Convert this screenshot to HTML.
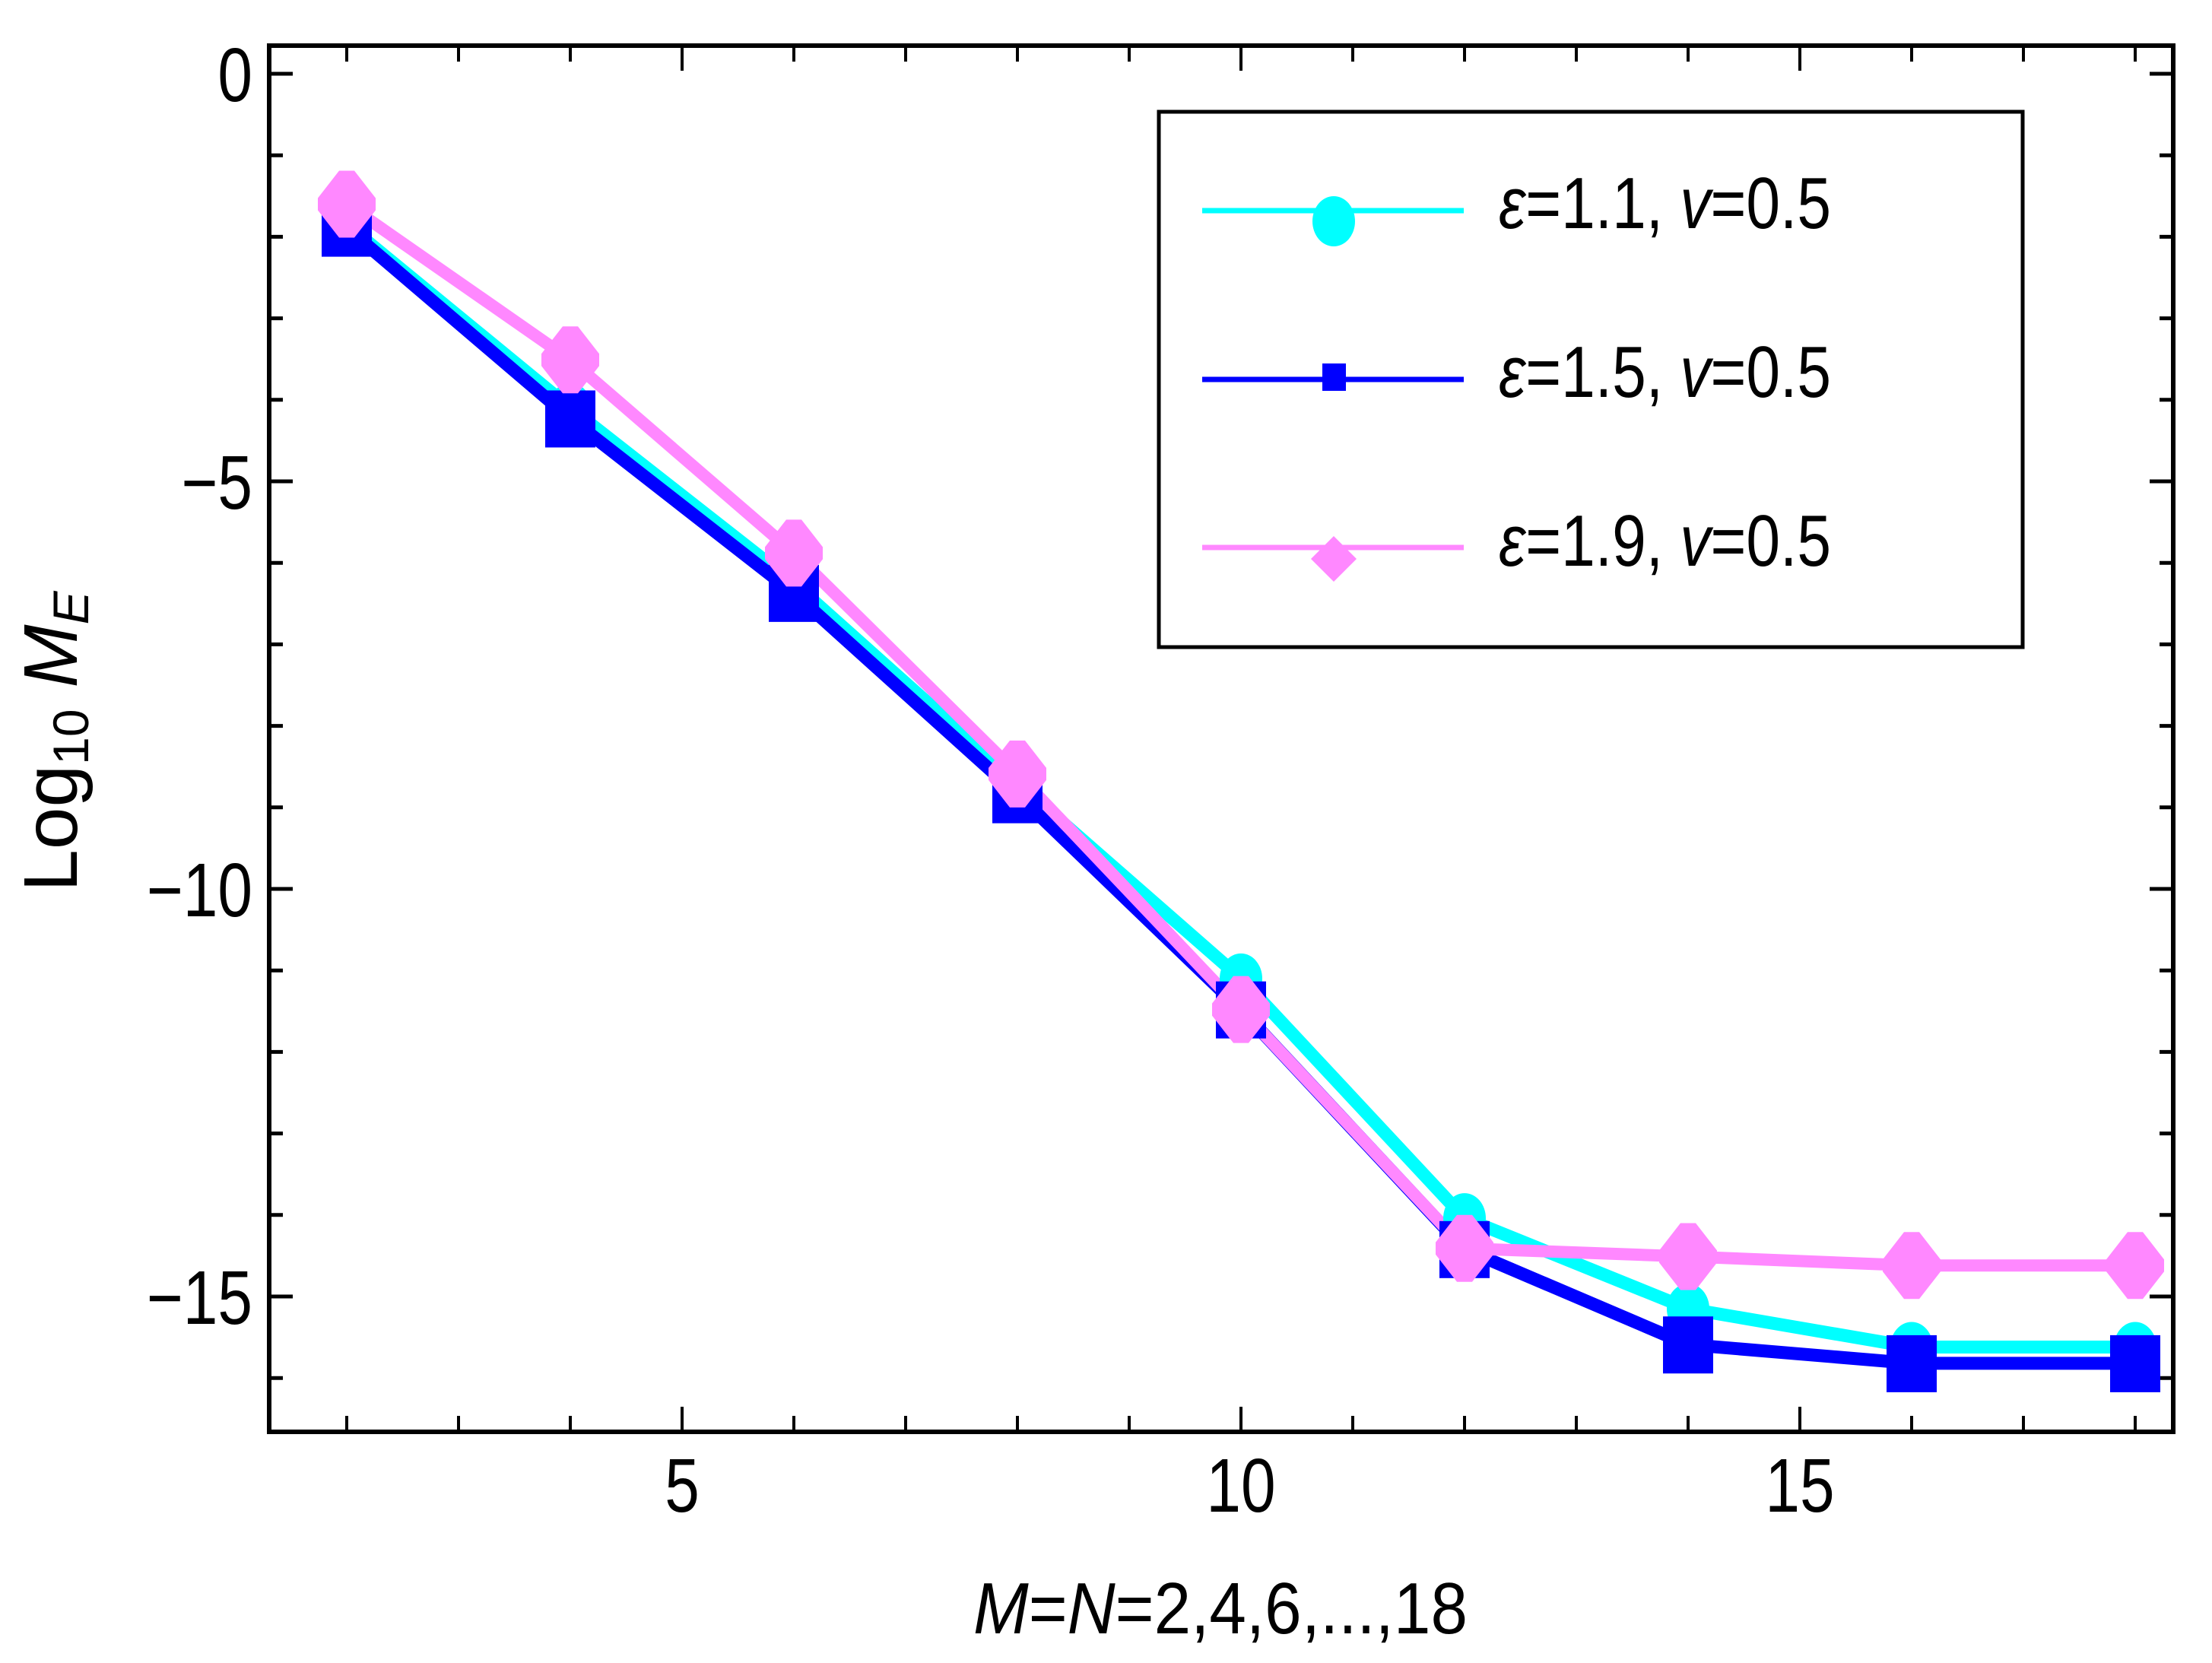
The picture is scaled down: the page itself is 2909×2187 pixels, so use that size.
<!DOCTYPE html>
<html><head><meta charset="utf-8"><style>
html,body{margin:0;padding:0;background:#fff;}
svg{display:block;font-family:"Liberation Sans",sans-serif;}
</style></head><body>
<svg id="chart" width="2909" height="2187" viewBox="0 0 2909 2187" xmlns="http://www.w3.org/2000/svg">
<rect x="0" y="0" width="2909" height="2187" fill="#fff"/>
<g id="ticks"></g>
<g id="series"></g>
<rect x="354" y="60" width="2504" height="1823" fill="none" stroke="#000" stroke-width="6"/>
<g id="labels" font-size="100"></g>
<text id="ytitle" transform="translate(101,975) rotate(-90)" text-anchor="middle" font-size="100">Log<tspan font-size="66" dy="15">10</tspan><tspan dy="-15"> </tspan><tspan font-style="italic">M</tspan><tspan font-style="italic" font-size="66" dy="15">E</tspan></text>
<text x="1605" y="2148" text-anchor="middle" font-size="96" textLength="650" lengthAdjust="spacingAndGlyphs"><tspan font-style="italic">M</tspan>=<tspan font-style="italic">N</tspan>=2,4,6,...,18</text>
<g>
<rect x="1524" y="147" width="1136" height="704" fill="#fff" stroke="#000" stroke-width="5"/>
<g>
<line x1="1581" y1="277" x2="1925" y2="277" stroke="#00ffff" stroke-width="7"/>
<ellipse cx="1754" cy="291" rx="28" ry="33" fill="#00ffff"/>
<text x="1971" y="300" font-size="96" textLength="437" lengthAdjust="spacingAndGlyphs"><tspan font-style="italic">ε</tspan>=1.1, <tspan font-style="italic">v</tspan>=0.5</text>
</g>
<g>
<line x1="1581" y1="499" x2="1925" y2="499" stroke="#0000ff" stroke-width="7"/>
<rect x="1739" y="478" width="31" height="36" fill="#0000ff"/>
<text x="1971" y="522" font-size="96" textLength="437" lengthAdjust="spacingAndGlyphs"><tspan font-style="italic">ε</tspan>=1.5, <tspan font-style="italic">v</tspan>=0.5</text>
</g>
<g>
<line x1="1581" y1="720" x2="1925" y2="720" stroke="#ff88ff" stroke-width="7"/>
<polygon points="1754,705 1784,735 1754,765 1724,735" fill="#ff88ff"/>
<text x="1971" y="744" font-size="96" textLength="437" lengthAdjust="spacingAndGlyphs"><tspan font-style="italic">ε</tspan>=1.9, <tspan font-style="italic">v</tspan>=0.5</text>
</g>
</g>
</svg>
<script>
const categories = [2, 4, 6, 8, 10, 12, 14, 16, 18];
const cyanValues = [-1.85, -4.1, -6.25, -8.7, -11.1, -14.04, -15.15, -15.62, -15.62];
const blueValues = [-1.89, -4.23, -6.37, -8.84, -11.48, -14.42, -15.59, -15.82, -15.82];
const pinkValues = [-1.6, -3.51, -5.88, -8.59, -11.48, -14.41, -14.51, -14.62, -14.62];
const xTickLabels = [5, 10, 15];
const yTickLabels = [0, -5, -10, -15];

const NS = "http://www.w3.org/2000/svg";
const L = 354, R = 2858, T = 60, B = 1883;
function xs(v){ return 2367 + 147 * (v - 15); }
function ys(v){ return 97 - 107.2 * v; }
function mk(tag, attrs, parent){
  const e = document.createElementNS(NS, tag);
  for (const k in attrs) e.setAttribute(k, attrs[k]);
  parent.appendChild(e); return e;
}
function condense(t, f){
  const w = t.getComputedTextLength();
  t.setAttribute('textLength', (w * f).toFixed(1));
  t.setAttribute('lengthAdjust', 'spacingAndGlyphs');
}
const ticks = document.getElementById('ticks');
for (let v = 2; v <= 18; v++) {
  const major = v % 5 === 0;
  const len = major ? 33 : 21;
  const x = xs(v);
  const t1 = mk('line', {x1:x, y1:B, x2:x, y2:B-len, stroke:'#000', 'stroke-width':4}, ticks);
  
  
  const t2 = mk('line', {x1:x, y1:T, x2:x, y2:T+len, stroke:'#000', 'stroke-width':4}, ticks);
  
  
}
for (let v = 0; v >= -16; v--) {
  const major = v % 5 === 0;
  const len = major ? 31 : 18;
  const y = ys(v);
  const t1 = mk('line', {x1:L, y1:y, x2:L+len, y2:y, stroke:'#000', 'stroke-width':5}, ticks);
  
  
  const t2 = mk('line', {x1:R, y1:y, x2:R-len, y2:y, stroke:'#000', 'stroke-width':5}, ticks);
  
  
}
const labels = document.getElementById('labels');
xTickLabels.forEach(v => {
  const t = mk('text', {x:xs(v), y:1988, 'text-anchor':'middle'}, labels);
  t.textContent = String(v);
  
  
  condense(t, 0.82);
});
yTickLabels.forEach(v => {
  const t = mk('text', {x:332, y:ys(v)+36, 'text-anchor':'end'}, labels);
  t.textContent = v < 0 ? '\u2212' + Math.abs(v) : String(v);
  
  
  condense(t, 0.82);
});
const series = document.getElementById('series');
function drawLine(vals, color, w, name){
  const pts = categories.map((c,i) => xs(c) + ',' + ys(vals[i])).join(' ');
  const p = mk('polyline', {points:pts, fill:'none', stroke:color, 'stroke-width':w, 'stroke-linejoin':'miter'}, series);
  
  
}
drawLine(cyanValues, '#00ffff', 17, 'line-eps-1-1');
drawLine(blueValues, '#0000ff', 17, 'line-eps-1-5');
drawLine(pinkValues, '#ff88ff', 16, 'line-eps-1-9');
categories.forEach((c,i) => {
  const e = mk('ellipse', {cx:xs(c), cy:ys(cyanValues[i]), rx:28, ry:33, fill:'#00ffff'}, series);
  
  
});
categories.forEach((c,i) => {
  const e = mk('rect', {x:xs(c)-33, y:ys(blueValues[i])-37, width:66, height:75, fill:'#0000ff'}, series);
  
  
});
categories.forEach((c,i) => {
  const x = xs(c), y = ys(pinkValues[i]);
  const pts = [[x-10,y-44],[x+10,y-44],[x+38,y-8],[x+38,y+8],[x+10,y+44],[x-10,y+44],[x-38,y+8],[x-38,y-8]].map(p=>p.join(',')).join(' ');
  const e = mk('polygon', {points:pts, fill:'#ff88ff'}, series);
  
  
});
</script>
</body></html>
